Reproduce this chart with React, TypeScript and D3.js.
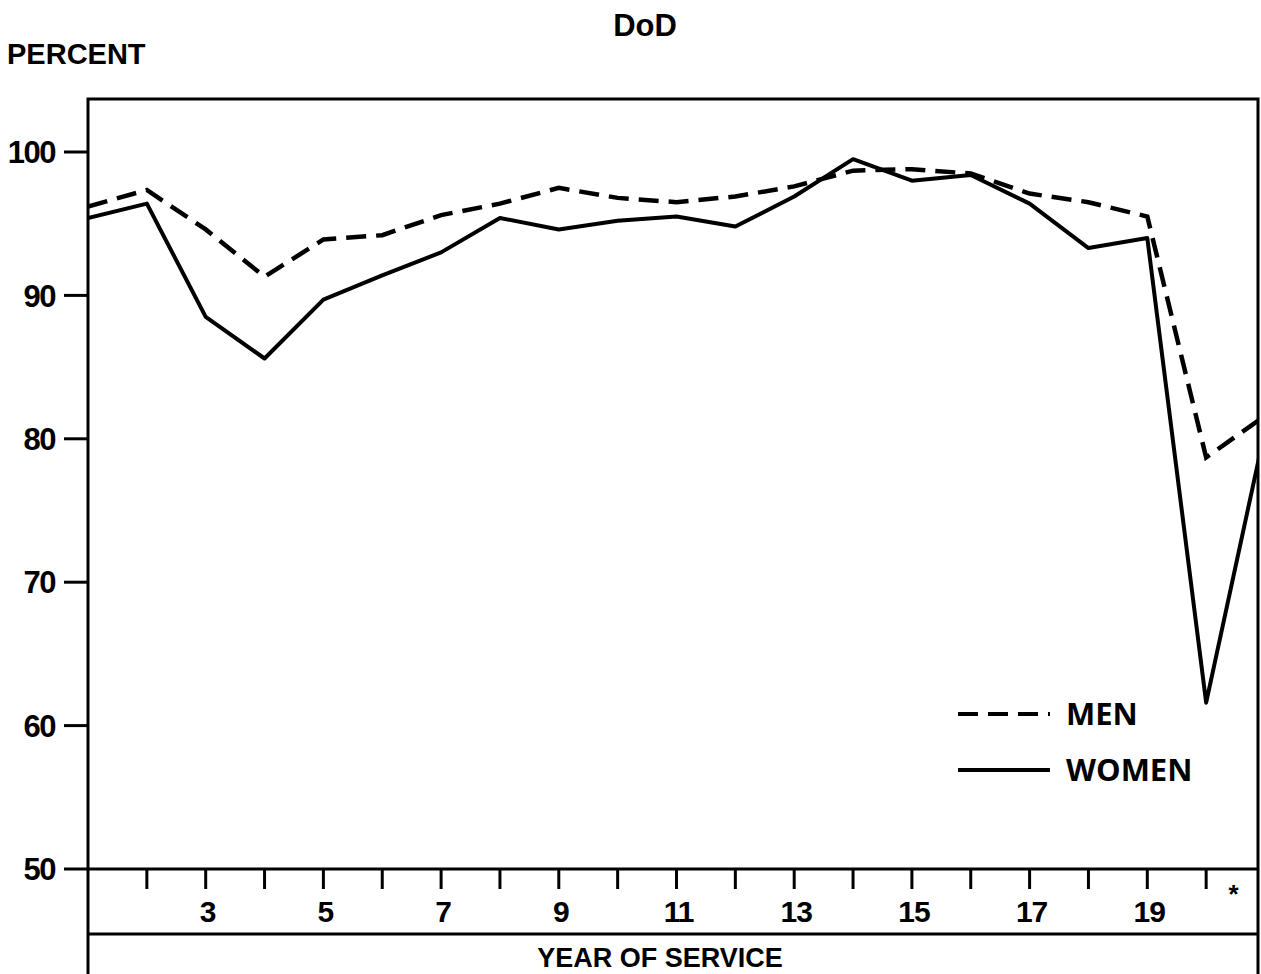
import { useEffect, useRef } from 'react';
import * as d3 from 'd3';

// years of service; the last point is the "*" column
const years = [1, 2, 3, 4, 5, 6, 7, 8, 9, 10, 11, 12, 13, 14, 15, 16, 17, 18, 19, 20, 21];
const menValues = [96.2, 97.35, 94.6, 91.3, 93.9, 94.2, 95.6, 96.4, 97.5, 96.8, 96.5, 96.9, 97.6, 98.7, 98.8, 98.5, 97.1, 96.5, 95.5, 78.7, 81.6];
const womenValues = [95.4, 96.4, 88.5, 85.6, 89.7, 91.4, 93.0, 95.4, 94.6, 95.2, 95.5, 94.8, 96.9, 99.5, 98.0, 98.4, 96.4, 93.3, 94.0, 61.6, 80.6];
const yTicks = [50, 60, 70, 80, 90, 100];
const xTicks = [2, 3, 4, 5, 6, 7, 8, 9, 10, 11, 12, 13, 14, 15, 16, 17, 18, 19, 20];
const xLabels = [3, 5, 7, 9, 11, 13, 15, 17, 19];
const legendItems = [
  { name: 'MEN', dash: '20 10' },
  { name: 'WOMEN', dash: null },
];

const NARROW = '"Liberation Sans Narrow", "Liberation Sans", Arial, sans-serif';

export default function App() {
  const chartRef = useRef<SVGSVGElement>(null);

  useEffect(() => {
    if (!chartRef.current) return;
    const svg = d3.select(chartRef.current);
    svg.selectAll('*').remove();

    const left = 88;
    const right = 1258;
    const top = 99;
    const axisY = 869;
    const boxY = 934;
    const bottom = 974;

    const x = d3.scaleLinear().domain([1, 21]).range([left, left + 20 * 58.85]);
    const y = d3.scaleLinear().domain([50, 100]).range([axisY, 152]);

    // titles
    svg.append('text')
      .attr('x', 645).attr('y', 36)
      .attr('text-anchor', 'middle')
      .attr('font-family', NARROW).attr('font-weight', 700).attr('font-size', 31)
      .text('DoD');
    svg.append('text')
      .attr('x', 7).attr('y', 64)
      .attr('font-family', NARROW).attr('font-weight', 700).attr('font-size', 29)
      .text('PERCENT');

    const frame = svg.append('g')
      .attr('stroke', '#000').attr('stroke-width', 3).attr('fill', 'none');
    frame.append('path')
      .attr('d', `M${left},${bottom}V${top}H${right}V${bottom}`);
    frame.append('line')
      .attr('x1', 64).attr('x2', right).attr('y1', axisY).attr('y2', axisY);
    frame.append('line')
      .attr('x1', left).attr('x2', right).attr('y1', boxY).attr('y2', boxY);

    // y axis ticks
    const yAxis = svg.append('g');
    yAxis.selectAll('line')
      .data(yTicks.filter(d => d !== 50))
      .enter()
      .append('line')
      .attr('x1', 64).attr('x2', left)
      .attr('y1', d => y(d)).attr('y2', d => y(d))
      .attr('stroke', '#000').attr('stroke-width', 3);
    yAxis.selectAll('text')
      .data(yTicks)
      .enter()
      .append('text')
      .attr('x', 55).attr('y', d => y(d))
      .attr('dy', '0.36em')
      .attr('text-anchor', 'end')
      .attr('font-family', NARROW).attr('font-weight', 700).attr('font-size', 31)
      .attr('letter-spacing', -1.5)
      .text(d => d.toString());

    // x axis ticks
    const xAxis = svg.append('g');
    xAxis.selectAll('line')
      .data(xTicks)
      .enter()
      .append('line')
      .attr('x1', d => x(d)).attr('x2', d => x(d))
      .attr('y1', axisY).attr('y2', 889)
      .attr('stroke', '#000').attr('stroke-width', 3);
    xAxis.selectAll('text')
      .data(xLabels)
      .enter()
      .append('text')
      .attr('x', d => x(d) + 2).attr('y', 922)
      .attr('text-anchor', 'middle')
      .attr('font-family', NARROW).attr('font-weight', 700).attr('font-size', 30)
      .attr('letter-spacing', -1)
      .text(d => d.toString());
    xAxis.append('text')
      .attr('x', (x(20) + x(21)) / 2 - 2).attr('y', 903)
      .attr('text-anchor', 'middle')
      .attr('font-family', NARROW).attr('font-weight', 700).attr('font-size', 26)
      .text('*');

    svg.append('text')
      .attr('x', 660).attr('y', 967)
      .attr('text-anchor', 'middle')
      .attr('font-family', '"Liberation Sans", Arial, sans-serif')
      .attr('font-weight', 700).attr('font-size', 27)
      .text('YEAR OF SERVICE');

    // data lines, clipped to the frame
    svg.append('clipPath').attr('id', 'plot-clip')
      .append('rect')
      .attr('x', left).attr('y', top)
      .attr('width', right - left).attr('height', axisY - top);

    const line = d3.line<number>()
      .x((_, i) => x(years[i]))
      .y(d => y(d));

    const plot = svg.append('g').attr('clip-path', 'url(#plot-clip)');
    plot.append('path')
      .attr('d', line(menValues))
      .attr('fill', 'none')
      .attr('stroke', '#000').attr('stroke-width', 4.5)
      .attr('stroke-dasharray', '20 10');
    plot.append('path')
      .attr('d', line(womenValues))
      .attr('fill', 'none')
      .attr('stroke', '#000').attr('stroke-width', 4)
      .attr('stroke-linejoin', 'round');

    // legend
    const legend = svg.append('g').attr('transform', 'translate(958, 714)');
    legendItems.forEach((d, i) => {
      const item = legend.append('g').attr('transform', `translate(0, ${i * 56})`);
      item.append('line')
        .attr('x1', 0).attr('x2', 92)
        .attr('stroke', '#000').attr('stroke-width', 4)
        .attr('stroke-dasharray', d.dash);
      item.append('text')
        .attr('x', 108).attr('y', 0)
        .attr('dy', '0.36em')
        .attr('font-family', '"Open Sans", sans-serif')
        .attr('font-weight', 700).attr('font-size', 31)
        .text(d.name);
    });
  }, []);

  return (
    <svg
      ref={chartRef}
      width={1261}
      height={974}
      style={{ position: 'absolute', left: 0, top: 0, background: '#fff' }}
    />
  );
}
